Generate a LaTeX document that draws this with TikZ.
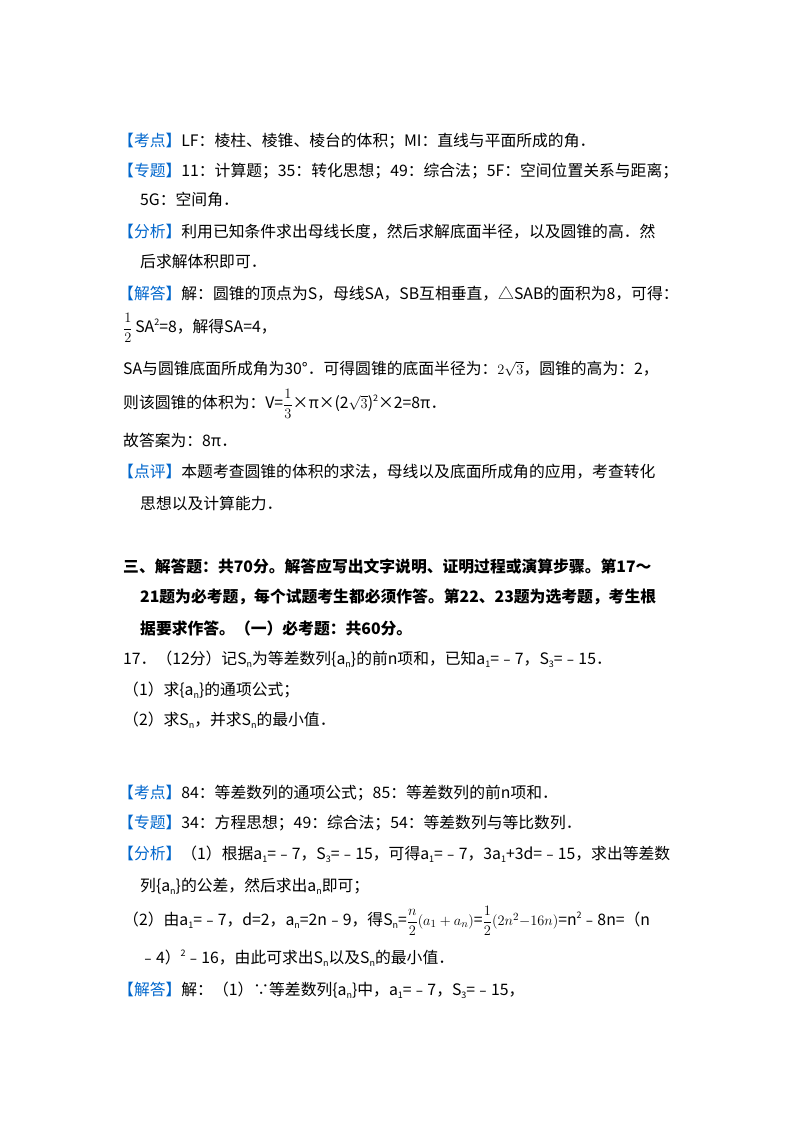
\documentclass[tikz,border=0pt]{standalone}
\usepackage{amsmath}
\usepackage{fontspec}
\setmainfont{Noto Sans CJK SC}
\definecolor{kblue}{RGB}{0,102,204}
\newcommand{\kb}[1]{\hspace{-5pt}{\color{kblue}【#1】}}
\newcommand{\lsub}[1]{\raisebox{-0.35ex}{\fontsize{9}{9}\selectfont #1}}
\newcommand{\lsup}[1]{\raisebox{0.8ex}{\fontsize{9}{9}\selectfont #1}}
\begin{document}
\begin{tikzpicture}[x=1pt,y=-1pt,every node/.style={anchor=west,inner sep=0pt,font=\fontsize{15.8}{18}\selectfont}]
\useasboundingbox (0,0) rectangle (800,1132);
\node (l1) at (123,141) {\kb{考点}LF：棱柱、棱锥、棱台的体积；MI：直线与平面所成的角．};
\node (l2) at (123,171) {\kb{专题}11：计算题；35：转化思想；49：综合法；5F：空间位置关系与距离；};
\node (l3) at (140,200) {5G：空间角．};
\node (l4) at (123,232) {\kb{分析}利用已知条件求出母线长度，然后求解底面半径，以及圆锥的高．然};
\node (l5) at (140,262) {后求解体积即可．};
\node (l6) at (123,294) {\kb{解答}解：圆锥的顶点为S，母线SA，SB互相垂直，△SAB的面积为8，可得：};
\node (l7) at (123,328) {\Large$\dfrac{1}{2}$\normalsize\fontsize{15.8}{18}\selectfont\,SA\lsup{2}=8，解得SA=4，};
\node (l8) at (123,369) {SA与圆锥底面所成角为30°．可得圆锥的底面半径为：$2\sqrt{3}$，圆锥的高为：2，};
\node (l9) at (123,404) {则该圆锥的体积为：V=$\dfrac{1}{3}$×π×(2$\sqrt{3}$)\lsup{2}×2=8π．};
\node (l10) at (123,440) {故答案为：8π．};
\node (l11) at (123,472) {\kb{点评}本题考查圆锥的体积的求法，母线以及底面所成角的应用，考查转化};
\node (l12) at (140,503) {思想以及计算能力．};
\node[font=\fontsize{15.8}{18}\selectfont\bfseries] (h1) at (123,566) {三、解答题：共70分。解答应写出文字说明、证明过程或演算步骤。第17～};
\node[font=\fontsize{15.8}{18}\selectfont\bfseries] (h2) at (140,597) {21题为必考题，每个试题考生都必须作答。第22、23题为选考题，考生根};
\node[font=\fontsize{15.8}{18}\selectfont\bfseries] (h3) at (140,628) {据要求作答。（一）必考题：共60分。};
\node (q1) at (123,659) {17．（12分）记S\lsub{n}为等差数列\{a\lsub{n}\}的前n项和，已知a\lsub{1}=﹣7，S\lsub{3}=﹣15．};
\node (q2) at (123,690) {（1）求\{a\lsub{n}\}的通项公式；};
\node (q3) at (123,720) {（2）求S\lsub{n}，并求S\lsub{n}的最小值．};
\node (m1) at (123,793) {\kb{考点}84：等差数列的通项公式；85：等差数列的前n项和．};
\node (m2) at (123,823) {\kb{专题}34：方程思想；49：综合法；54：等差数列与等比数列．};
\node (m3) at (123,854) {\kb{分析}（1）根据a\lsub{1}=﹣7，S\lsub{3}=﹣15，可得a\lsub{1}=﹣7，3a\lsub{1}+3d=﹣15，求出等差数};
\node (m4) at (140,886) {列\{a\lsub{n}\}的公差，然后求出a\lsub{n}即可；};
\node (m5) at (123,921) {（2）由a\lsub{1}=﹣7，d=2，a\lsub{n}=2n﹣9，得S\lsub{n}=$\dfrac{n}{2}(a_1+a_n)$=$\dfrac{1}{2}(2n^2{-}16n)$=n\lsup{2}﹣8n=（n};
\node (m6) at (140,958) {﹣4）\lsup{2}﹣16，由此可求出S\lsub{n}以及S\lsub{n}的最小值．};
\node (m7) at (123,990) {\kb{解答}解：（1）∵等差数列\{a\lsub{n}\}中，a\lsub{1}=﹣7，S\lsub{3}=﹣15，};
\end{tikzpicture}
\end{document}
